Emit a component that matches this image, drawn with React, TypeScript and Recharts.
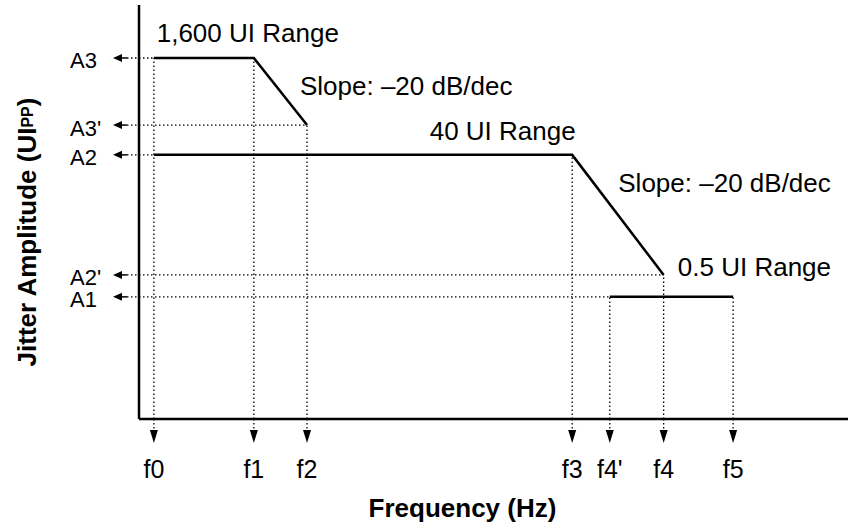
import React from 'react';
import { LineChart, Line, XAxis, YAxis, ReferenceLine, ReferenceDot, Label } from 'recharts';

// Tick labels and their (schematic) positions on each axis
const freqLabels = ['f0', 'f1', 'f2', 'f3', "f4'", 'f4', 'f5'];
const freqValues = [2.1, 16.2, 23.7, 61.1, 66.4, 74.0, 83.8];
const ampLabels = ['A1', "A2'", 'A2', "A3'", 'A3'];
const ampValues = [29.5, 34.8, 63.8, 71.0, 87.2];

const f = (name: string) => freqValues[freqLabels.indexOf(name)];
const a = (name: string) => ampValues[ampLabels.indexOf(name)];

// Series (corner points of the jitter tolerance mask)
const range1600 = [
  { x: f('f0'), y: a('A3') },
  { x: f('f1'), y: a('A3') },
  { x: f('f2'), y: a("A3'") },
];
const range40 = [
  { x: f('f0'), y: a('A2') },
  { x: f('f3'), y: a('A2') },
  { x: f('f4'), y: a("A2'") },
];
const range05 = [
  { x: f("f4'"), y: a('A1') },
  { x: f('f5'), y: a('A1') },
];

// Dotted guides: [frequency, amplitude]
const verticalGuides = [
  ['f0', 'A3'], ['f1', 'A3'], ['f2', "A3'"], ['f3', 'A2'], ["f4'", 'A1'], ['f4', "A2'"], ['f5', 'A1'],
];
// [amplitude, frequency]
const horizontalGuides = [
  ['A3', 'f0'], ["A3'", 'f2'], ['A2', 'f0'], ["A2'", 'f4'], ['A1', "f4'"],
];

// Text annotations anchored in data space
const notes = [
  { text: '1,600 UI Range', x: 2.5, y: 91.1 },
  { text: 'Slope: \u201320 dB/dec', x: 22.7, y: 78.3 },
  { text: '40 UI Range', x: 41.0, y: 67.4 },
  { text: 'Slope: \u201320 dB/dec', x: 67.6, y: 54.8 },
  { text: '0.5 UI Range', x: 76.0, y: 34.5 },
];

const FONT = '"Liberation Sans", Arial, Helvetica, sans-serif';
const DOTS = '1.5 2.5';

const YTick = (props: any) => {
  const { x, y, payload } = props;
  const label = ampLabels[ampValues.indexOf(payload.value)];
  return (
    <g>
      <text x={x - 69} y={y + 10.5} textAnchor="start" fontSize={22} fill="#000" fontFamily={FONT}>
        {label}
      </text>
      <path d={`M${x - 26},${y} L${x - 17},${y - 4} L${x - 17},${y + 4} Z`} fill="#000" />
      <line x1={x - 18} x2={x - 12} y1={y} y2={y} stroke="#000" strokeWidth={1.5} />
      <line x1={x - 12} x2={x} y1={y} y2={y} stroke="#000" strokeWidth={1.3} strokeDasharray={DOTS} />
    </g>
  );
};

const XTick = (props: any) => {
  const { x, y, payload } = props;
  const label = freqLabels[freqValues.indexOf(payload.value)];
  return (
    <g>
      <line x1={x} x2={x} y1={y} y2={y + 11} stroke="#000" strokeWidth={1.3} strokeDasharray={DOTS} />
      <path d={`M${x - 4},${y + 11} L${x + 4},${y + 11} L${x},${y + 24} Z`} fill="#000" />
      <text x={x} y={y + 59} textAnchor="middle" fontSize={25} fill="#000" fontFamily={FONT}>
        {label}
      </text>
    </g>
  );
};

const XTitle = (props: any) => {
  const vb = props.viewBox;
  return (
    <text
      x={vb.x + vb.width / 2 - 31}
      y={vb.y + 98}
      textAnchor="middle"
      fontSize={26}
      fontWeight="bold"
      fill="#000"
      fontFamily={FONT}
    >
      Frequency (Hz)
    </text>
  );
};

const YTitle = (props: any) => {
  const vb = props.viewBox;
  const cx = vb.x + 27;
  const cy = vb.y + vb.height / 2 + 20;
  return (
    <text
      x={cx}
      y={cy}
      transform={`rotate(-90, ${cx}, ${cy})`}
      textAnchor="middle"
      dominantBaseline="central"
      fontSize={26}
      fontWeight="bold"
      fill="#000"
      fontFamily={FONT}
    >
      Jitter Amplitude (UI<tspan fontSize={16}>PP</tspan>)
    </text>
  );
};

export default function App() {
  return (
    <div style={{ position: 'absolute', left: 0, top: 0, background: '#fff' }}>
      <LineChart width={850} height={532} margin={{ top: 5, right: 2, left: 0, bottom: 0 }}>
        <XAxis
          type="number"
          dataKey="x"
          domain={[0, 100]}
          ticks={freqValues}
          interval={0}
          tick={<XTick />}
          tickLine={false}
          tickSize={0}
          tickMargin={0}
          axisLine={{ stroke: '#000', strokeWidth: 2.5 }}
          height={113}
          allowDataOverflow
        >
          <Label content={<XTitle />} />
        </XAxis>
        <YAxis
          type="number"
          dataKey="y"
          domain={[0, 100]}
          ticks={ampValues}
          interval={0}
          tick={<YTick />}
          tickLine={false}
          tickSize={0}
          tickMargin={0}
          axisLine={{ stroke: '#000', strokeWidth: 2.5 }}
          width={139}
          allowDataOverflow
        >
          <Label content={<YTitle />} />
        </YAxis>

        {verticalGuides.map(([fn, an], i) => (
          <ReferenceLine
            key={`v${i}`}
            segment={[{ x: f(fn), y: 0 }, { x: f(fn), y: a(an) }]}
            stroke="#000"
            strokeWidth={1.3}
            strokeDasharray={DOTS}
            ifOverflow="visible"
          />
        ))}
        {horizontalGuides.map(([an, fn], i) => (
          <ReferenceLine
            key={`h${i}`}
            segment={[{ x: 0, y: a(an) }, { x: f(fn), y: a(an) }]}
            stroke="#000"
            strokeWidth={1.3}
            strokeDasharray={DOTS}
            ifOverflow="visible"
          />
        ))}

        <Line data={range1600} dataKey="y" type="linear" stroke="#000" strokeWidth={2.5} dot={false} isAnimationActive={false} />
        <Line data={range40} dataKey="y" type="linear" stroke="#000" strokeWidth={2.5} dot={false} isAnimationActive={false} />
        <Line data={range05} dataKey="y" type="linear" stroke="#000" strokeWidth={2.5} dot={false} isAnimationActive={false} />

        {notes.map((n, i) => (
          <ReferenceDot
            key={`n${i}`}
            x={n.x}
            y={n.y}
            r={0}
            ifOverflow="visible"
            shape={(p: any) => (
              <text x={p.cx} y={p.cy} textAnchor="start" fontSize={26} fill="#000" fontFamily={FONT}>
                {n.text}
              </text>
            )}
          />
        ))}
      </LineChart>
    </div>
  );
}
